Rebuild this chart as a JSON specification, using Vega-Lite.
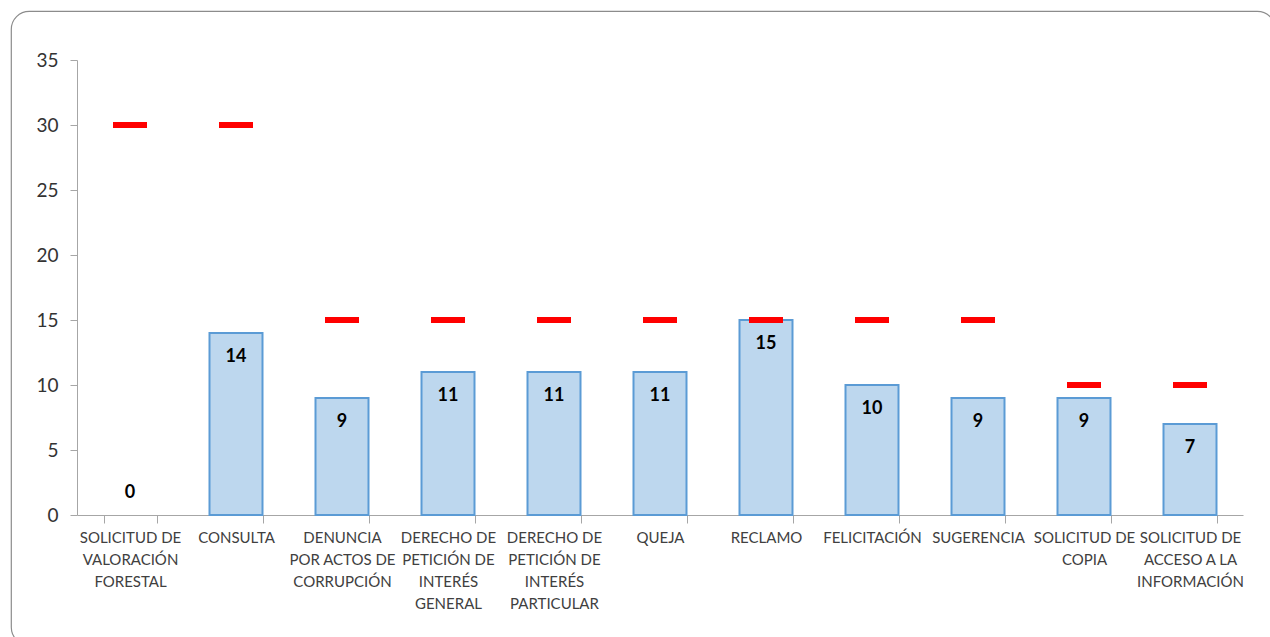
{
  "$schema": "https://vega.github.io/schema/vega-lite/v6.json",
  "autosize": {"type": "none"},
  "padding": {"left": 11, "top": 11, "right": 0, "bottom": 0},
  "width": 1264,
  "height": 634,
  "background": "white",
  "config": {
    "view": {"stroke": "#8c8c8c", "strokeWidth": 1.2, "cornerRadius": 18},
    "font": "Lato"
  },
  "data": {
    "values": [
      {"tipo": "SOLICITUD DE VALORACIÓN FORESTAL", "cantidad": 0, "meta": 30},
      {"tipo": "CONSULTA", "cantidad": 14, "meta": 30},
      {"tipo": "DENUNCIA POR ACTOS DE CORRUPCIÓN", "cantidad": 9, "meta": 15},
      {"tipo": "DERECHO DE PETICIÓN DE INTERÉS GENERAL", "cantidad": 11, "meta": 15},
      {"tipo": "DERECHO DE PETICIÓN DE INTERÉS PARTICULAR", "cantidad": 11, "meta": 15},
      {"tipo": "QUEJA", "cantidad": 11, "meta": 15},
      {"tipo": "RECLAMO", "cantidad": 15, "meta": 15},
      {"tipo": "FELICITACIÓN", "cantidad": 10, "meta": 15},
      {"tipo": "SUGERENCIA", "cantidad": 9, "meta": 15},
      {"tipo": "SOLICITUD DE COPIA", "cantidad": 9, "meta": 10},
      {"tipo": "SOLICITUD DE ACCESO A LA INFORMACIÓN", "cantidad": 7, "meta": 10}
    ]
  },
  "encoding": {
    "x": {
      "field": "tipo",
      "type": "nominal",
      "sort": null,
      "scale": {
        "domain": ["SOLICITUD DE VALORACIÓN FORESTAL", "CONSULTA", "DENUNCIA POR ACTOS DE CORRUPCIÓN", "DERECHO DE PETICIÓN DE INTERÉS GENERAL", "DERECHO DE PETICIÓN DE INTERÉS PARTICULAR", "QUEJA", "RECLAMO", "FELICITACIÓN", "SUGERENCIA", "SOLICITUD DE COPIA", "SOLICITUD DE ACCESO A LA INFORMACIÓN"],
        "range": [66, 1232], "paddingInner": 0.5, "paddingOuter": 0.25
      },
      "axis": {
        "title": null,
        "orient": "bottom",
        "offset": -130,
        "labelAngle": 0,
        "labelFont": "Lato",
        "labelFontSize": 15,
        "labelColor": "#404040",
        "labelLineHeight": 22,
        "labelPadding": 7,
        "labelBaseline": "top",
        "tickBand": "extent",
        "tickSize": 8,
        "tickColor": "#a6a6a6",
        "domainColor": "#a6a6a6",
        "grid": false,
        "labelExpr": "{'SOLICITUD DE VALORACIÓN FORESTAL': ['SOLICITUD DE', 'VALORACIÓN', 'FORESTAL'], 'CONSULTA': 'CONSULTA', 'DENUNCIA POR ACTOS DE CORRUPCIÓN': ['DENUNCIA', 'POR ACTOS DE', 'CORRUPCIÓN'], 'DERECHO DE PETICIÓN DE INTERÉS GENERAL': ['DERECHO DE', 'PETICIÓN DE', 'INTERÉS', 'GENERAL'], 'DERECHO DE PETICIÓN DE INTERÉS PARTICULAR': ['DERECHO DE', 'PETICIÓN DE', 'INTERÉS', 'PARTICULAR'], 'QUEJA': 'QUEJA', 'RECLAMO': 'RECLAMO', 'FELICITACIÓN': 'FELICITACIÓN', 'SUGERENCIA': 'SUGERENCIA', 'SOLICITUD DE COPIA': ['SOLICITUD DE', 'COPIA'], 'SOLICITUD DE ACCESO A LA INFORMACIÓN': ['SOLICITUD DE', 'ACCESO A LA', 'INFORMACIÓN']}[datum.label]"
      }
    }
  },
  "layer": [
    {
      "transform": [{"filter": "datum.cantidad > 0"}],
      "mark": {"type": "bar", "fill": "#BDD7EE", "stroke": "#5B9BD5", "strokeWidth": 2},
      "encoding": {
        "y": {
          "field": "cantidad",
          "type": "quantitative",
          "scale": {"domain": [0, 35], "range": [504, 49], "nice": false},
          "axis": {
            "title": null,
            "offset": -66,
            "values": [0, 5, 10, 15, 20, 25, 30, 35],
            "labelFont": "Lato",
            "labelFontSize": 19,
            "labelColor": "#333333",
            "labelPadding": 12,
            "tickSize": 7,
            "tickColor": "#a6a6a6",
            "domainColor": "#a6a6a6",
            "grid": false
          }
        }
      }
    },
    {
      "mark": {"type": "tick", "color": "#FF0000", "size": 34, "thickness": 6, "opacity": 1},
      "encoding": {"y": {"field": "meta", "type": "quantitative"}}
    },
    {
      "transform": [{"filter": "datum.cantidad > 0"}],
      "mark": {"type": "text", "baseline": "middle", "dy": 24, "fontSize": 18, "fontWeight": "bold", "color": "#000000", "font": "Lato"},
      "encoding": {
        "y": {"field": "cantidad", "type": "quantitative"},
        "text": {"field": "cantidad", "type": "quantitative"}
      }
    },
    {
      "transform": [{"filter": "datum.cantidad == 0"}],
      "mark": {"type": "text", "baseline": "middle", "dy": -22, "fontSize": 18, "fontWeight": "bold", "color": "#000000", "font": "Lato"},
      "encoding": {
        "y": {"field": "cantidad", "type": "quantitative"},
        "text": {"field": "cantidad", "type": "quantitative"}
      }
    }
  ]
}
